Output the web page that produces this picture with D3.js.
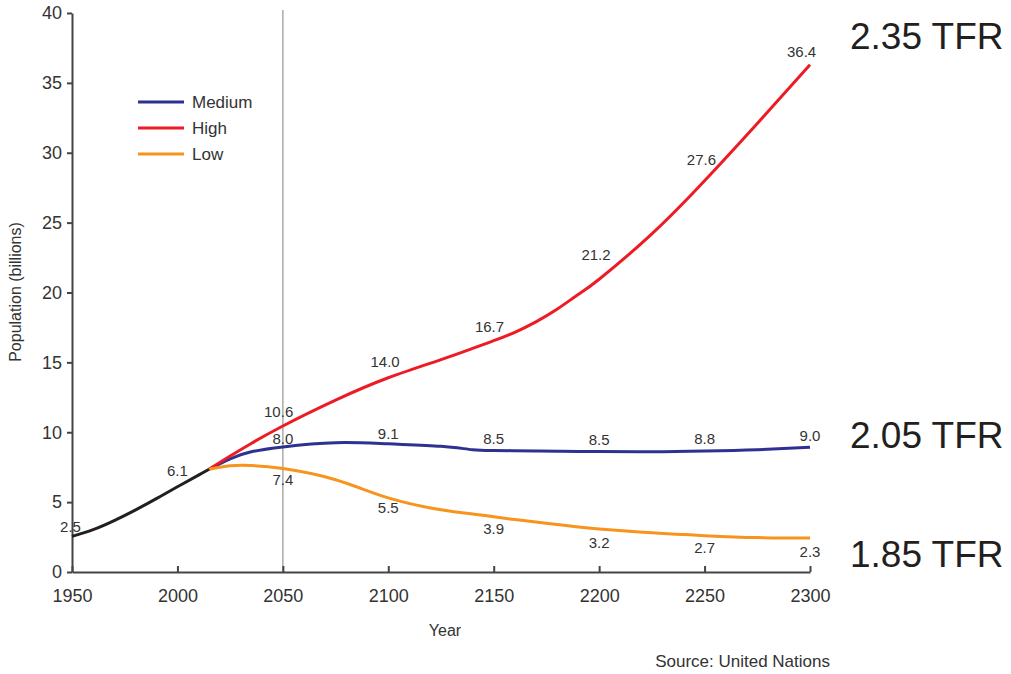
<!DOCTYPE html>
<html>
<head>
<meta charset="utf-8">
<script src="https://cdn.jsdelivr.net/npm/d3@7"></script>
<style>
  html, body { margin: 0; padding: 0; background: #fff; }
  svg { display: block; font-family: "Liberation Sans", Arial, Helvetica, sans-serif; }
  .axis text { fill: #333; font-size: 18px; }
  .axis path, .axis line { stroke: #444; stroke-width: 2; }
</style>
</head>
<body>
<svg id="chart" width="1011" height="674"></svg>
<script>
// ---------- data ----------
const histYears = [1950, 1960, 1970, 1980, 1990, 2000, 2010, 2015];
const histValues = [2.55, 3.03, 3.68, 4.43, 5.25, 6.1, 6.93, 7.35];

const projYears    = [2015, 2025, 2035, 2050, 2075, 2100, 2125, 2140, 2150, 2160, 2170, 2180, 2190, 2200, 2225, 2250, 2275, 2300];
const mediumValues = [7.35, 8.1, 8.6, 8.95, 9.25, 9.17, 9.0, 8.75, 8.7, 8.68, 8.66, 8.64, 8.63, 8.62, 8.6, 8.65, 8.75, 8.92];
const highValues   = [7.35, 8.3, 9.2, 10.45, 12.3, 13.9, 15.2, 16.0, 16.55, 17.15, 17.9, 18.8, 19.85, 20.95, 24.2, 28.0, 32.1, 36.3];
const lowValues    = [7.35, 7.6, 7.62, 7.4, 6.6, 5.3, 4.45, 4.15, 3.95, 3.75, 3.57, 3.4, 3.22, 3.07, 2.8, 2.6, 2.46, 2.43];

const seriesNames = ["Medium", "High", "Low"];
const seriesColors = ["#2e3192", "#ed1c24", "#f7941d"];
const histColor = "#231f20";

// point labels: text, year (x anchor), y anchor in billions
const labelTexts = ["2.5", "6.1", "10.6", "8.0", "7.4", "14.0", "9.1", "5.5", "16.7", "8.5", "3.9", "21.2", "8.5", "3.2", "27.6", "8.8", "2.7", "36.4", "9.0", "2.3"];
const labelYears = [1949.3, 2000, 2048, 2050, 2050, 2098.5, 2100, 2100, 2148, 2150, 2150, 2198.5, 2200, 2200, 2248.5, 2250, 2250, 2296, 2300, 2300];
const labelYPos  = [3.24, 7.25, 11.47, 9.52, 6.58, 15.05, 9.92, 4.63, 17.55, 9.5, 3.06, 22.73, 9.45, 2.1, 29.48, 9.5, 1.7, 37.23, 9.75, 1.45];

const tfrTexts = ["2.35 TFR", "2.05 TFR", "1.85 TFR"];
const tfrYPos = [37.4, 8.85, 0.38];

const xTicks = [1950, 2000, 2050, 2100, 2150, 2200, 2250, 2300];
const yTicks = [0, 5, 10, 15, 20, 25, 30, 35, 40];
const markerYear = 2050;

// ---------- chart ----------
const svg = d3.select("#chart");
const x = d3.scaleLinear().domain([1950, 2300]).range([72, 810]);
const y = d3.scaleLinear().domain([0, 40]).range([572, 13]);

// reference vertical line at 2050
svg.append("line")
  .attr("x1", x(markerYear)).attr("x2", x(markerYear))
  .attr("y1", 10).attr("y2", y(0))
  .attr("stroke", "#aaa").attr("stroke-width", 1.5);

// axes
const xAxis = d3.axisBottom(x).tickValues(xTicks).tickFormat(d3.format("d"))
  .tickSizeInner(-6).tickSizeOuter(0).tickPadding(17);
svg.append("g").attr("class", "axis").attr("transform", `translate(0,${y(0)})`).call(xAxis);

const yAxis = d3.axisLeft(y).tickValues(yTicks).tickSizeInner(5).tickSizeOuter(0).tickPadding(5);
svg.append("g").attr("class", "axis").attr("transform", `translate(${x(1950)},0)`).call(yAxis);

// lines
const line = d3.line().x(d => x(d[0])).y(d => y(d[1])).curve(d3.curveNatural);
const series = [mediumValues, highValues, lowValues];
series.forEach((vals, i) => {
  svg.append("path")
    .datum(projYears.map((yr, j) => [yr, vals[j]]))
    .attr("fill", "none")
    .attr("stroke", seriesColors[i])
    .attr("stroke-width", 3)
    .attr("d", line);
});
svg.append("path")
  .datum(histYears.map((yr, j) => [yr, histValues[j]]))
  .attr("fill", "none")
  .attr("stroke", histColor)
  .attr("stroke-width", 3)
  .attr("d", line);

// point labels
svg.append("g").selectAll("text")
  .data(labelTexts)
  .join("text")
  .attr("x", (d, i) => x(labelYears[i]))
  .attr("y", (d, i) => y(labelYPos[i]))
  .attr("dy", "0.35em")
  .attr("text-anchor", "middle")
  .attr("font-size", 15)
  .attr("fill", "#333")
  .text(d => d);

// legend
const legend = svg.append("g").attr("transform", "translate(138,102)");
seriesNames.forEach((name, i) => {
  const yy = [0, 26, 52][i];
  legend.append("line").attr("x1", 0).attr("x2", 46).attr("y1", yy).attr("y2", yy)
    .attr("stroke", seriesColors[i]).attr("stroke-width", 3);
  legend.append("text").attr("x", 54).attr("y", yy).attr("dy", "0.35em")
    .attr("font-size", 17).attr("fill", "#333").text(name);
});

// TFR labels
svg.append("g").selectAll("text")
  .data(tfrTexts)
  .join("text")
  .attr("x", 850)
  .attr("y", (d, i) => y(tfrYPos[i]))
  .attr("font-size", 37)
  .attr("fill", "#231f20")
  .text(d => d);

// axis titles
svg.append("text").attr("x", 445).attr("y", 636).attr("text-anchor", "middle")
  .attr("font-size", 16).attr("fill", "#333").text("Year");
svg.append("text").attr("transform", "translate(21,292) rotate(-90)").attr("text-anchor", "middle")
  .attr("font-size", 16).attr("fill", "#333").text("Population (billions)");
svg.append("text").attr("x", 830).attr("y", 667).attr("text-anchor", "end")
  .attr("font-size", 17).attr("fill", "#333").text("Source: United Nations");
</script>
</body>
</html>
